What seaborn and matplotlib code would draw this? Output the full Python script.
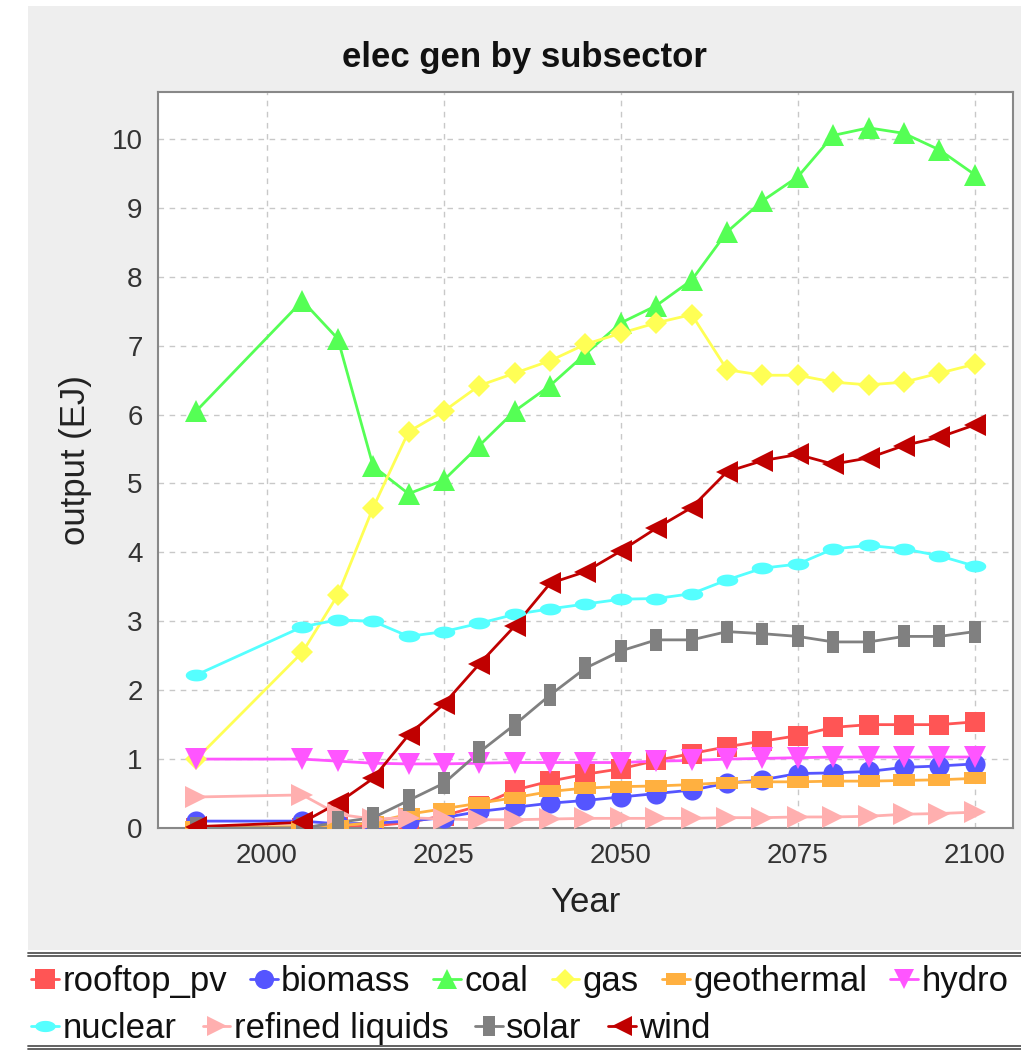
import matplotlib
matplotlib.use("Agg")
import numpy as np
import matplotlib.pyplot as plt
import seaborn as sns
from matplotlib.lines import Line2D
from matplotlib.patches import Rectangle

# ---- data (EJ) ----
years = [1990, 2005, 2010, 2015, 2020, 2025, 2030, 2035, 2040, 2045, 2050,
         2055, 2060, 2065, 2070, 2075, 2080, 2085, 2090, 2095, 2100]

rooftop_pv = [0.0, 0.0, 0.01, 0.03, 0.08, 0.18, 0.32, 0.55, 0.68, 0.78, 0.86,
              0.98, 1.08, 1.18, 1.26, 1.34, 1.46, 1.5, 1.5, 1.5, 1.54]
biomass = [0.1, 0.1, 0.06, 0.07, 0.1, 0.15, 0.24, 0.3, 0.36, 0.4, 0.45,
           0.5, 0.55, 0.65, 0.7, 0.79, 0.8, 0.82, 0.88, 0.9, 0.93]
coal = [6.05, 7.65, 7.1, 5.25, 4.85, 5.05, 5.55, 6.05, 6.42, 6.88, 7.33,
        7.58, 7.95, 8.65, 9.1, 9.45, 10.05, 10.16, 10.08, 9.84, 9.48]
gas = [1.0, 2.55, 3.38, 4.65, 5.75, 6.05, 6.42, 6.6, 6.78, 7.02, 7.18,
       7.33, 7.45, 6.65, 6.57, 6.57, 6.47, 6.43, 6.47, 6.6, 6.73]
geothermal = [0.01, 0.02, 0.03, 0.08, 0.2, 0.28, 0.36, 0.44, 0.53, 0.58, 0.6,
              0.61, 0.63, 0.66, 0.67, 0.67, 0.68, 0.68, 0.69, 0.7, 0.72]
hydro = [1.0, 1.0, 0.97, 0.94, 0.93, 0.93, 0.94, 0.95, 0.95, 0.95, 0.95,
         0.97, 0.98, 1.0, 1.01, 1.02, 1.03, 1.03, 1.03, 1.03, 1.03]
nuclear = [2.22, 2.92, 3.02, 3.0, 2.78, 2.85, 2.97, 3.1, 3.18, 3.25, 3.32,
           3.33, 3.4, 3.6, 3.77, 3.83, 4.05, 4.1, 4.05, 3.95, 3.8]
refined_liquids = [0.45, 0.48, 0.2, 0.13, 0.15, 0.13, 0.12, 0.12, 0.13, 0.14, 0.14,
                   0.14, 0.14, 0.15, 0.15, 0.16, 0.16, 0.17, 0.2, 0.21, 0.23]
solar = [0.0, 0.0, 0.08, 0.15, 0.4, 0.65, 1.1, 1.5, 1.93, 2.32, 2.57,
         2.73, 2.73, 2.85, 2.82, 2.78, 2.7, 2.7, 2.78, 2.78, 2.85]
wind = [0.02, 0.08, 0.36, 0.72, 1.35, 1.8, 2.38, 2.93, 3.55, 3.72, 4.02,
        4.35, 4.65, 5.17, 5.33, 5.42, 5.28, 5.37, 5.55, 5.67, 5.85]

series_names = ["rooftop_pv", "biomass", "coal", "gas", "geothermal",
                "hydro", "nuclear", "refined liquids", "solar", "wind"]
series_values = [rooftop_pv, biomass, coal, gas, geothermal,
                 hydro, nuclear, refined_liquids, solar, wind]

colors = ["#FF5555", "#5555FF", "#55FF55", "#FFFF55", "#FFB040",
          "#FF55FF", "#55FFFF", "#FFAFAF", "#808080", "#C00000"]

# shape sequence: square, circle, up-triangle, diamond, flat rectangle,
# down-triangle, flat ellipse, right-triangle, tall rectangle, left-triangle
_t = np.linspace(0, 2 * np.pi, 40)
hrect = [(-1, -0.55), (1, -0.55), (1, 0.55), (-1, 0.55), (-1, -0.55)]
vrect = [(-0.55, -1), (0.55, -1), (0.55, 1), (-0.55, 1), (-0.55, -1)]
hell = list(zip(np.cos(_t), 0.55 * np.sin(_t)))
markers = ["s", "o", "^", "D", hrect, "v", hell, ">", vrect, "<"]
msizes = [14.5, 14.5, 15.5, 11, 15.5, 15.5, 15.5, 15.5, 15.5, 15.5]

sns.set_theme(style="white")
plt.rcParams["font.family"] = ["Liberation Sans", "DejaVu Sans"]

fig = plt.figure(figsize=(10.21, 10.53), dpi=100, facecolor="white")

# grey chart panel and white legend strip
fig.add_artist(Rectangle((28 / 1021, 1 - 950 / 1053), 1 - 28 / 1021, (950 - 6) / 1053,
                         transform=fig.transFigure, facecolor="#EEEEEE",
                         edgecolor="none", zorder=-10))
for yy in (953, 956, 1046, 1049):
    fig.add_artist(Line2D([28 / 1021, 1.0], [1 - yy / 1053] * 2,
                          transform=fig.transFigure, color="#555555", lw=1.3))

ax = fig.add_axes([158 / 1021, 1 - 828 / 1053, (1013 - 158) / 1021, (828 - 92) / 1053])
ax.set_facecolor("white")

for name, vals, c, m, ms in zip(series_names, series_values, colors, markers, msizes):
    # connecting line underneath, shapes on top
    sns.lineplot(x=years, y=vals, ax=ax, color=c, linewidth=2.0, zorder=2,
                 legend=False)
    sns.lineplot(x=years, y=vals, ax=ax, color=c, linestyle="none", marker=m,
                 markersize=ms, markeredgewidth=0, zorder=3, legend=False)

ax.set_xlim(1984.6, 2105.4)
ax.set_ylim(0, 10.68)
ax.set_xticks([2000, 2025, 2050, 2075, 2100])
ax.set_yticks(range(0, 11))
ax.grid(True, color="#C8C8C8", linestyle=(0, (4, 4)), linewidth=1.0)
ax.set_axisbelow(True)
for s in ax.spines.values():
    s.set_color("#888888")
    s.set_linewidth(1.5)
ax.tick_params(axis="both", which="both", length=5, width=1.2, color="#888888",
               labelsize=20, labelcolor="#333333", direction="out", pad=6)
ax.set_xlabel("Year", fontsize=25, color="#222222", labelpad=12)
ax.set_ylabel("output (EJ)", fontsize=25, color="#222222", labelpad=14)

fig.text(524 / 1021, 1 - 57 / 1053, "elec gen by subsector", ha="center", va="center",
         fontsize=25, fontweight="bold", color="#111111")

handles = []
for name, c, m, ms in zip(series_names, colors, markers, msizes):
    handles.append(Line2D([0], [0], color=c, lw=2.0, marker=m, markersize=ms * 0.95,
                          markeredgewidth=0))

common = dict(frameon=False, fontsize=25, handlelength=0.8, handletextpad=0.1,
              borderpad=0, borderaxespad=0, loc="upper left", labelcolor="#111111")
leg1 = fig.legend(handles[:6], series_names[:6], ncol=6, columnspacing=0.66,
                  bbox_to_anchor=(31 / 1021, 1 - 965 / 1053), **common)
leg2 = fig.legend(handles[6:], series_names[6:], ncol=4, columnspacing=0.76,
                  bbox_to_anchor=(31 / 1021, 1 - 1012 / 1053), **common)

fig.savefig("out.png", dpi=100, facecolor="white")
